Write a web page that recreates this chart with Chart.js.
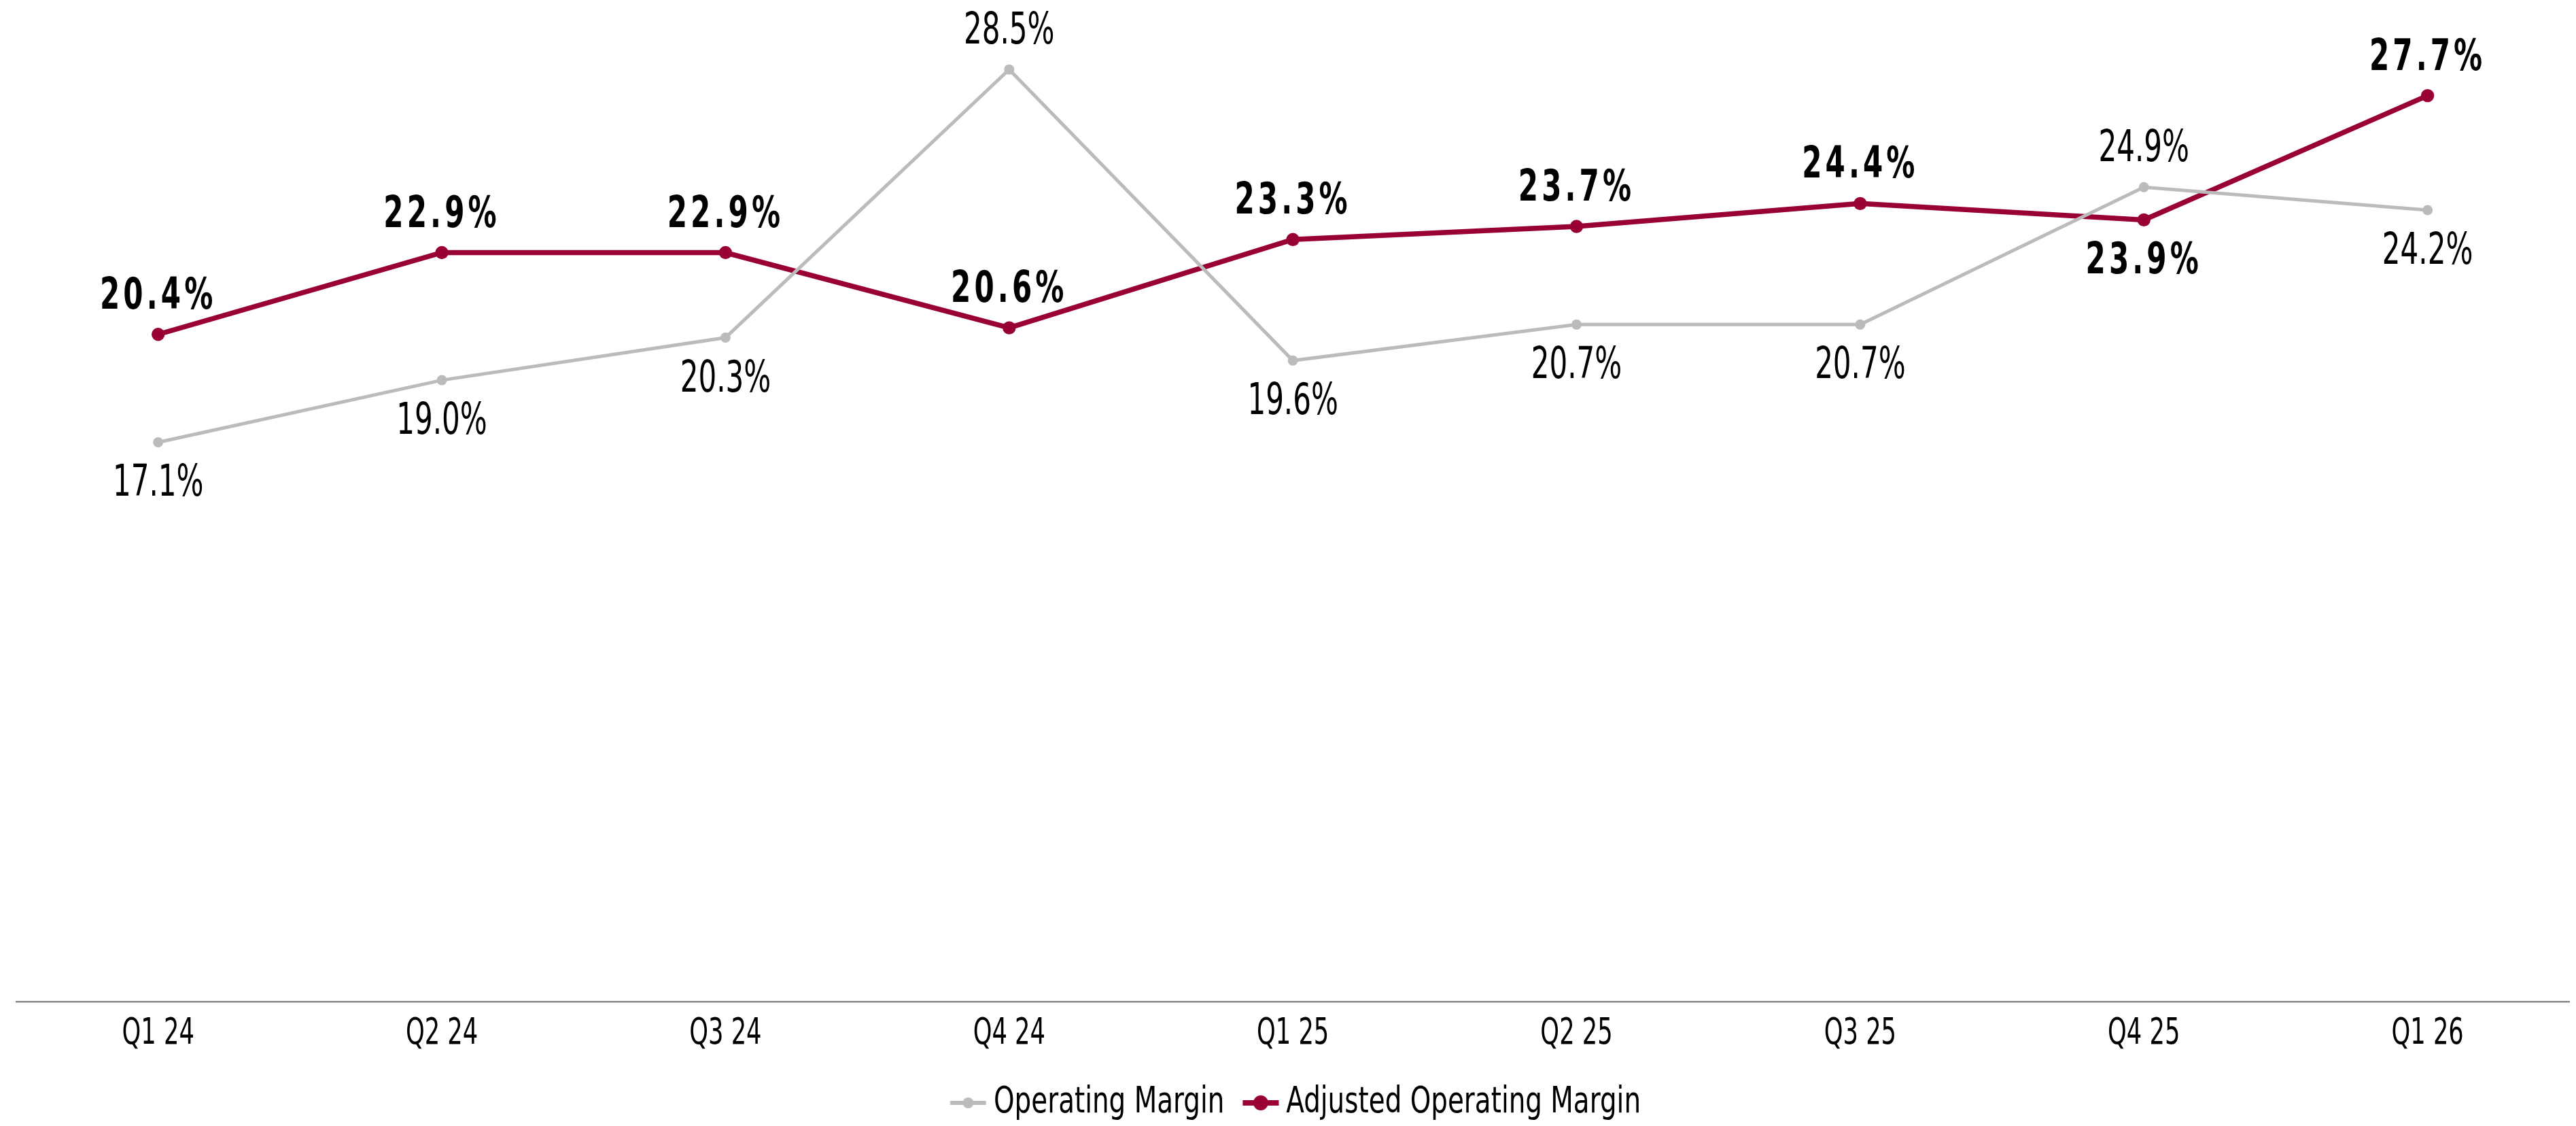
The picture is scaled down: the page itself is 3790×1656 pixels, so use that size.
<!DOCTYPE html>
<html>
<head>
<meta charset="utf-8">
<script src="https://cdn.jsdelivr.net/npm/chart.js@4/dist/chart.umd.min.js"></script>
<style>
  html, body { margin: 0; padding: 0; background: #fff; }
  #wrap { width: 3790px; height: 1656px; }
</style>
</head>
<body>
<div id="wrap"><canvas id="chart"></canvas></div>
<script>
const quarters = ["Q1 24", "Q2 24", "Q3 24", "Q4 24", "Q1 25", "Q2 25", "Q3 25", "Q4 25", "Q1 26"];
const operatingMargin = [17.1, 19.0, 20.3, 28.5, 19.6, 20.7, 20.7, 24.9, 24.2];
const adjustedMargin = [20.4, 22.9, 22.9, 20.6, 23.3, 23.7, 24.4, 23.9, 27.7];

// where each value label sits relative to its point
const opLabelPos = ["below", "below", "below", "above", "below", "below", "below", "above", "below"];
const adjLabelPos = ["above", "above", "above", "above", "above", "above", "above", "below", "above"];

const FONT = "'DejaVu Sans Condensed', 'DejaVu Sans', sans-serif";
const GRAY = "#bbbbbb";
const RED = "#990033";

// no narrow font is installed, so squeeze text horizontally (by font size)
const squeezeBySize = { 53: 0.74, 54: 0.8, 64: 0.73 };
function squeezeFor(font) {
  const m = /(\d+(?:\.\d+)?)px/.exec(font);
  return (m && squeezeBySize[m[1]]) || 1;
}
function condense(ctx) {
  const fill = ctx.fillText.bind(ctx);
  const measure = ctx.measureText.bind(ctx);
  ctx.fillText = function (text, x, y) {
    const s = squeezeFor(ctx.font);
    ctx.save();
    ctx.translate(x, y);
    ctx.scale(s, 1);
    fill(text, 0, 0);
    ctx.restore();
  };
  ctx.measureText = function (text) {
    const m = measure(text);
    const s = squeezeFor(ctx.font);
    return {
      width: m.width * s,
      actualBoundingBoxAscent: m.actualBoundingBoxAscent,
      actualBoundingBoxDescent: m.actualBoundingBoxDescent,
      actualBoundingBoxLeft: m.actualBoundingBoxLeft * s,
      actualBoundingBoxRight: m.actualBoundingBoxRight * s,
    };
  };
}

// legend marker: line with a dot, sitting on the right part of the image
function legendMarker(color, radius, lineW) {
  const c = document.createElement("canvas");
  c.width = 96;
  c.height = 24;
  const g = c.getContext("2d");
  g.strokeStyle = color;
  g.lineWidth = lineW;
  g.beginPath();
  g.moveTo(42.5, 12);
  g.lineTo(95.5, 12);
  g.stroke();
  g.fillStyle = color;
  g.beginPath();
  g.arc(69, 12, radius, 0, Math.PI * 2);
  g.fill();
  return c;
}

const valueLabels = {
  id: "valueLabels",
  afterLayout(chart) {
    // the marker images carry some blank space on the left; recentre the row
    chart.legend.left -= 12;
    chart.legend.right -= 12;
  },
  afterDatasetsDraw(chart) {
    const ctx = chart.ctx;
    chart.data.datasets.forEach((ds, i) => {
      const meta = chart.getDatasetMeta(i);
      const pos = i === 0 ? opLabelPos : adjLabelPos;
      ctx.save();
      ctx.font = (i === 0 ? "" : "bold ") + "64px " + FONT;
      ctx.letterSpacing = i === 0 ? "0px" : "7px";
      ctx.fillStyle = "#000";
      ctx.textAlign = "center";
      ctx.textBaseline = "alphabetic";
      meta.data.forEach((pt, j) => {
        const txt = ds.data[j].toFixed(1) + "%";
        const y = pos[j] === "above" ? pt.y - 38 : pt.y + 79;
        ctx.fillText(txt, pt.x, y);
      });
      ctx.restore();
    });
  }
};

const ctx = document.getElementById("chart").getContext("2d");
condense(ctx);
const chart = new Chart(ctx, {
  type: "line",
  data: {
    labels: quarters,
    datasets: [
      {
        label: "Operating Margin",
        data: operatingMargin,
        borderColor: GRAY,
        backgroundColor: GRAY,
        borderWidth: 5,
        pointRadius: 7.5,
        pointHoverRadius: 7.5,
        pointBorderWidth: 0,
        tension: 0,
      },
      {
        label: "Adjusted Operating Margin",
        data: adjustedMargin,
        borderColor: RED,
        backgroundColor: RED,
        borderWidth: 7.5,
        pointRadius: 9.7,
        pointHoverRadius: 9.7,
        pointBorderWidth: 0,
        tension: 0,
      },
    ],
  },
  options: {
    responsive: true,
    maintainAspectRatio: false,
    animation: false,
    layout: {
      padding: { left: 24, right: 4, top: 30, bottom: -3 },
    },
    plugins: {
      legend: {
        display: true,
        position: "bottom",
        labels: {
          usePointStyle: true,
          pointStyleWidth: 63,
          padding: 1,
          color: "#000",
          font: { family: FONT, size: 54 },
          generateLabels(chart) {
            return chart.data.datasets.map((ds, i) => ({
              text: ds.label,
              datasetIndex: i,
              fontColor: "#000",
              pointStyle: i === 0 ? legendMarker(GRAY, 8, 6) : legendMarker(RED, 11, 8),
              lineWidth: 0,
              strokeStyle: "transparent",
              fillStyle: "transparent",
            }));
          },
        },
      },
      tooltip: { enabled: false },
    },
    scales: {
      x: {
        offset: true,
        grid: { display: false, offset: true },
        border: { display: true, color: "#888888", width: 2.5 },
        ticks: {
          color: "#000",
          padding: 8,
          font: { family: FONT, size: 53 },
        },
        afterFit(scale) {
          scale.height = 121;
        },
      },
      y: {
        display: false,
        min: 0,
        max: 30,
      },
    },
  },
  plugins: [valueLabels],
});
</script>
</body>
</html>
